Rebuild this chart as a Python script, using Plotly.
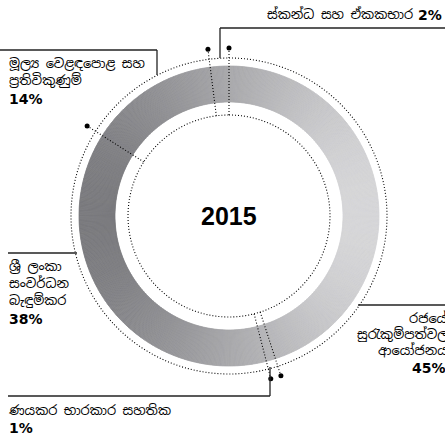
import numpy as np
import plotly.graph_objects as go

# Portfolio composition, 2015 (share of total, %)
year_label = "2015"
labels = [
    "රජයේ සුරැකුම්පත්වල ආයෝජනය",
    "ණයකර භාරකාර සහතික",
    "ශ්‍රී ලංකා සංවර්ධන බැඳුම්කර",
    "මූල්‍ය වෙළඳපොළ සහ ප්‍රතිවිකුණුම්",
    "ස්කන්ධ සහ ඒකකභාර",
]
shares = [45, 1, 38, 14, 2]

# ---- geometry (pixels) ----
W, H = 445, 439
CX, CY = 229, 216
R_OUT, R_IN = 150, 114          # grey ring
R_DOT_OUT, R_DOT_IN = 158, 101  # dotted guide circles
R_PIN = 168                     # end dots on the slice boundaries
R_AX = 172                      # radius of the polar area

SIN_FONT = "Noto Sans Sinhala, Noto Serif Sinhala, Noto Sans, sans-serif"
NUM_FONT = "DejaVu Sans"

deg = 3.6 * np.array(shares, dtype=float)
starts = np.concatenate([[0.0], np.cumsum(deg)[:-1]])
ends = starts + deg

LO = np.array([0x74, 0x74, 0x78])
HI = np.array([0xDC, 0xDC, 0xDE])


def shade(theta):
    """Horizontal grey gradient: dark on the left, light on the right."""
    x = np.sin(np.radians(theta)) * (R_OUT + R_IN) / 2
    t = np.clip((x + R_OUT) / (2 * R_OUT), 0, 1)
    c = LO + np.outer(t, HI - LO)
    return ["rgb(%d,%d,%d)" % tuple(v) for v in c.round().astype(int)]


fig = go.Figure()

# ring slices, each built from narrow steps so the fill can follow the gradient
for lab, s, e in zip(labels, starts, ends):
    n = max(2, int(np.ceil((e - s) / 0.5)))
    edges = np.linspace(s, e, n + 1)
    centers = (edges[:-1] + edges[1:]) / 2
    widths = np.diff(edges)
    cols = shade(centers)
    fig.add_trace(go.Barpolar(
        theta=centers, width=widths,
        r=[R_OUT - R_IN] * n, base=R_IN,
        marker=dict(color=cols, line=dict(color=cols, width=0.8)),
        name=lab, hoverinfo="name", showlegend=False,
    ))

# dotted guide circles
circ = np.linspace(0, 360, 721)
for rr in (R_DOT_OUT, R_DOT_IN):
    fig.add_trace(go.Scatterpolar(
        theta=circ, r=[rr] * len(circ), mode="lines",
        line=dict(color="black", width=1.1, dash="1px,2px"),
        hoverinfo="skip", showlegend=False,
    ))

# dotted slice boundaries ending in a dot
for a in starts:
    fig.add_trace(go.Scatterpolar(
        theta=[a, a], r=[R_DOT_IN, R_PIN], mode="lines",
        line=dict(color="black", width=1.1, dash="1px,2px"),
        hoverinfo="skip", showlegend=False,
    ))
fig.add_trace(go.Scatterpolar(
    theta=starts, r=[R_PIN] * len(starts), mode="markers",
    marker=dict(color="black", size=5),
    hoverinfo="skip", showlegend=False,
))


def px(x, y):
    return x / W, 1 - y / H


# leader lines (pixel polylines)
leaders = [
    [(220, 58), (220, 28), (445, 28)],
    [(0, 50), (157, 50), (157, 75)],
    [(8, 253), (77, 253)],
    [(358, 305), (445, 305)],
    [(8, 396), (270, 396), (270, 367)],
]
shapes = []
for pts in leaders:
    for (x0, y0), (x1, y1) in zip(pts[:-1], pts[1:]):
        a0, b0 = px(x0, y0)
        a1, b1 = px(x1, y1)
        shapes.append(dict(type="line", xref="paper", yref="paper",
                           x0=a0, y0=b0, x1=a1, y1=b1,
                           line=dict(color="#222222", width=1.3)))

annotations = []


def text(x, y, s, anchor="left", font=SIN_FONT, size=13, bold=False):
    ax, ay = px(x, y)
    annotations.append(dict(
        x=ax, y=ay, xref="paper", yref="paper", text=("<b>%s</b>" % s) if bold else s,
        showarrow=False, xanchor=anchor, yanchor="middle",
        font=dict(family=font, size=size, color="black"),
    ))


# top: 2%
text(415, 15, "ස්කන්ධ සහ ඒකකභාර", anchor="right")
text(444, 15, "2%", anchor="right", font=NUM_FONT, size=14, bold=True)
# upper left: 14%
text(7, 64, "මූල්‍ය වෙළඳපොළ සහ")
text(7, 80, "ප්‍රතිවිකුණුම්")
text(7, 99, "14%", font=NUM_FONT, size=14, bold=True)
# left: 38%
text(7, 266, "ශ්‍රී ලංකා")
text(7, 283, "සංවර්ධන")
text(7, 300, "බැඳුම්කර")
text(7, 319, "38%", font=NUM_FONT, size=14, bold=True)
# right: 45%
text(450, 318, "රජයේ", anchor="right")
text(450, 334, "සුරැකුම්පත්වල", anchor="right")
text(450, 350, "ආයෝජනය", anchor="right")
text(448, 368, "45%", anchor="right", font=NUM_FONT, size=14, bold=True)
# bottom: 1%
text(6, 410, "ණයකර භාරකාර සහතික")
text(7, 428, "1%", font=NUM_FONT, size=14, bold=True)
# centre year
text(CX, CY, year_label, anchor="center", font="Liberation Sans", size=25, bold=True)

dx0, dy0 = px(CX - R_AX, CY + R_AX)
dx1, dy1 = px(CX + R_AX, CY - R_AX)

fig.update_layout(
    width=W, height=H,
    margin=dict(l=0, r=0, t=0, b=0),
    paper_bgcolor="white", plot_bgcolor="white",
    barmode="overlay",
    polar=dict(
        domain=dict(x=[dx0, dx1], y=[dy0, dy1]),
        bgcolor="rgba(0,0,0,0)",
        hole=0,
        bargap=0,
        radialaxis=dict(range=[0, R_AX], visible=False, showgrid=False),
        angularaxis=dict(rotation=90, direction="clockwise", visible=False,
                         showgrid=False, thetaunit="degrees"),
    ),
    shapes=shapes,
    annotations=annotations,
    showlegend=False,
)

fig.write_html("out.html")
